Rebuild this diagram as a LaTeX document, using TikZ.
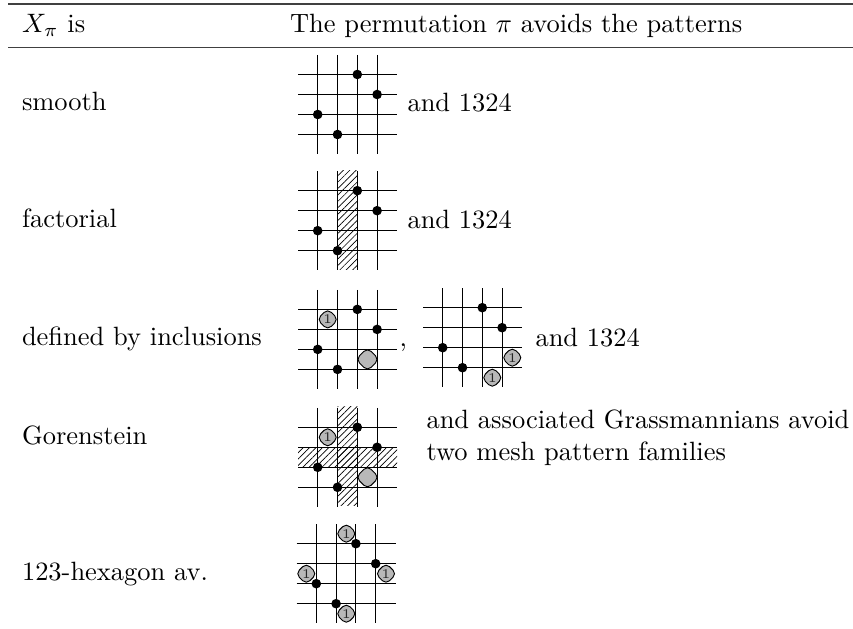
\documentclass[tikz,border=0pt]{standalone}
\usetikzlibrary{patterns.meta}
\tikzset{
  txt/.style={anchor=base west,inner sep=0pt,font=\fontsize{9.92}{12}\selectfont},
  rulea/.style={line width=0.5pt,draw=black!75},
  gridline/.style={line width=0.4pt,draw=black},
  dotm/.style={fill=black,draw=none},
  hatch/.style={pattern={Lines[angle=45,distance=1.7pt,line width=0.25pt]},pattern color=black},
  blob/.style={fill=black!28,draw=black,line width=0.35pt,rounded corners=1.9pt},
  blobtxt/.style={inner sep=0pt,font=\fontsize{5}{5}\selectfont,text=black!85}
}
% #1 x of first column, #2 y of first row
\newcommand{\gridlines}[2]{%
  \foreach \i in {0,1,2,3}{
    \draw[gridline] ({#1+\i*19.8},{#2-19.5}) -- ({#1+\i*19.8},{#2+79.5});
    \draw[gridline] ({#1-19.6},{#2+\i*20}) -- ({#1+79.4},{#2+\i*20});
  }}
\newcommand{\dotsp}[2]{%
  \foreach \a/\b in {2/0,3/1,0/2,1/3}{
    \fill[dotm] ({#1+\a*19.8},{#2+\b*20}) circle (4.8);
  }}
% #1 cx, #2 cy, #3 half diagonal
\newcommand{\blobshape}[3]{%
  \draw[blob] ({#1-#3},#2) -- (#1,{#2-#3}) -- ({#1+#3},#2) -- (#1,{#2+#3}) -- cycle;}
\newcommand{\blobone}[3][b]{%
  \blobshape{#2}{#3}{10.6}
  \node[blobtxt] (#1) at (#2,#3) {1};}
\begin{document}
\begin{tikzpicture}[x=0.375pt,y=-0.375pt]
\useasboundingbox (0,0) rectangle (853,629);
% table rules
\coordinate (rl) at (8,4); \coordinate (rr) at (853,4);
\coordinate (ml) at (8,47.5); \coordinate (mr) at (853,47.5);
\draw[rulea] (rl) -- (rr);
\draw[rulea] (ml) -- (mr);
% left column
\node[txt] (h1) at (21.5,33) {$X_\pi$ is};
\node[txt] (h2) at (289.5,33) {The permutation $\pi$ avoids the patterns};
\node[txt] (t1) at (21.5,111) {smooth};
\node[txt] (t2) at (21.5,227.7) {factorial};
\node[txt] (t3) at (21.5,346) {defined by inclusions};
\node[txt] (t4) at (21.5,445) {Gorenstein};
\node[txt] (t5) at (21.5,581) {123-hexagon av.};
% row 1
\gridlines{317.7}{74.5}
\dotsp{317.7}{74.5}
\node[txt] (a1) at (407,111.7) {and 1324};
% row 2
\fill[hatch] (337.5,171) rectangle (357.3,270);
\gridlines{317.7}{190.7}
\dotsp{317.7}{190.7}
\node[txt] (a2) at (407,228.2) {and 1324};
% row 3
\gridlines{317.7}{309.4}
\blobone[b1]{327.7}{319.4}
\blobshape{367.5}{359.4}{11.6}
\dotsp{317.7}{309.4}
\node[txt] (c1) at (399,346.5) {,};
\gridlines{442.7}{307.7}
\blobone[b2]{512.3}{357.7}
\blobone[b3]{492.3}{377.7}
\dotsp{442.7}{307.7}
\node[txt] (a3) at (535,346.7) {and 1324};
% row 4
\fill[hatch] (337.5,407) rectangle (357.3,506);
\fill[hatch] (298,447.3) rectangle (397,467.3);
\gridlines{317.7}{427.3}
\blobone[b4]{327.7}{437.3}
\blobshape{367.5}{477.3}{11.6}
\dotsp{317.7}{427.3}
\node[txt] (a4) at (426,429) {and associated Grassmannians avoid};
\node[txt] (a5) at (426,461) {two mesh pattern families};
% row 5
\gridlines{316.3}{543.7}
\blobone[b5]{346.3}{533.7}
\blobone[b6]{386}{573.7}
\blobone[b7]{306.3}{573.7}
\blobone[b8]{346.3}{613.7}
\dotsp{316.3}{543.7}
\end{tikzpicture}
\end{document}
